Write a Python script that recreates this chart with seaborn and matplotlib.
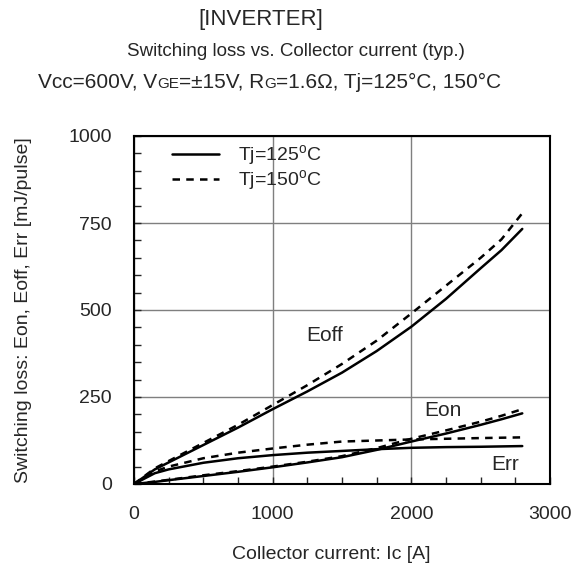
import numpy as np
import pandas as pd
import seaborn as sns
import matplotlib.pyplot as plt
from matplotlib.lines import Line2D
from matplotlib.ticker import MultipleLocator

# Data (collector current in A, losses in mJ/pulse)
ic = [0, 150, 250, 500, 750, 1000, 1250, 1500, 1750, 2000, 2250, 2500, 2650, 2800]

eoff_125 = [0, 42, 62, 112, 162, 215, 266, 320, 382, 452, 532, 620, 672, 733]
eoff_150 = [0, 45, 66, 118, 170, 227, 284, 345, 412, 490, 570, 650, 703, 778]
eon_125 = [0, 6, 11, 23, 35, 48, 62, 77, 98, 122, 145, 170, 186, 203]
eon_150 = [0, 7, 12, 25, 37, 50, 64, 80, 103, 130, 154, 179, 196, 215]
err_125 = [0, 31, 42, 61, 74, 83, 90, 95, 100, 104, 106, 107, 108, 109]
err_150 = [0, 36, 50, 74, 90, 102, 113, 122, 125, 128, 130, 132, 133, 134]

temps = ["Tj=125$^\\mathregular{o}$C", "Tj=150$^\\mathregular{o}$C"]

sns.set_style("ticks")
plt.rcParams["font.family"] = ["Liberation Sans", "DejaVu Sans"]
plt.rcParams["mathtext.fontset"] = "custom"
plt.rcParams["mathtext.rm"] = "Liberation Sans"
FS = 14

fig = plt.figure(figsize=(5.83, 5.78), dpi=100)
ax = fig.add_axes([134 / 583, 1 - 484 / 578, 416 / 583, 348 / 578])

dash = (0, (3, 2.5))
curves = [
    (eoff_125, "-"), (eoff_150, dash),
    (eon_125, "-"), (eon_150, dash),
    (err_125, "-"), (err_150, dash),
]
for vals, ls in curves:
    df = pd.DataFrame({"ic": ic, "e": vals})
    sns.lineplot(data=df, x="ic", y="e", ax=ax, color="black",
                 linewidth=1.8, linestyle=ls, zorder=3)

ax.set_xlim(0, 3000)
ax.set_ylim(0, 1000)
ax.xaxis.set_major_locator(MultipleLocator(1000))
ax.xaxis.set_minor_locator(MultipleLocator(250))
ax.yaxis.set_major_locator(MultipleLocator(250))
ax.yaxis.set_minor_locator(MultipleLocator(50))
ax.tick_params(which="both", direction="in", length=5, width=1, labelsize=FS,
               top=False, right=False)
ax.tick_params(axis="y", pad=16)
ax.tick_params(axis="x", pad=16)
ax.grid(which="major", color="#7f7f7f", linewidth=1)
for s in ax.spines.values():
    s.set_linewidth(1.5)
    s.set_color("black")

ax.set_xlabel("Collector current: Ic [A]", fontsize=FS)
ax.xaxis.set_label_coords((331 - 134) / 416, -(546 - 484) / 348)
ax.set_ylabel("Switching loss: Eon, Eoff, Err [mJ/pulse]", fontsize=FS)
ax.yaxis.set_label_coords(-(134 - 32) / 416, 0.5)

ax.text(1375, 427, "Eoff", fontsize=FS + 1, ha="center", va="center")
ax.text(2225, 211, "Eon", fontsize=FS + 1, ha="center", va="center")
ax.text(2675, 55, "Err", fontsize=FS + 1, ha="center", va="center")

handles = [Line2D([], [], color="black", lw=1.8, ls="-"),
           Line2D([], [], color="black", lw=1.8, ls=dash)]
ax.legend(handles, temps, loc="upper left", bbox_to_anchor=(0.05, 1.029),
          frameon=False, fontsize=FS, handlelength=2.4, handletextpad=1.0,
          labelspacing=0.0)

# title lines
fig.text(261 / 583, 1 - 19 / 578, "[INVERTER]", fontsize=16, ha="center", va="center")
fig.text(296 / 583, 1 - 52 / 578, "Switching loss vs. Collector current (typ.)",
         fontsize=13.5, ha="center", va="center")

# third line with small-letter suffixes on the baseline
pieces = [("Vcc=600V, V", 15), ("GE", 11), ("=\u00b115V, R", 15),
          ("G", 11), ("=1.6\u03a9, Tj=125\u00b0C, 150\u00b0C", 15)]
renderer = fig.canvas.get_renderer()
objs = []
for txt, size in pieces:
    objs.append(fig.text(0, 1 - 88 / 578, txt, fontsize=size, va="baseline"))
widths = [o.get_window_extent(renderer).width for o in objs]
x = 270 - sum(widths) / 2
for o, w in zip(objs, widths):
    o.set_x(x / 583)
    x += w

fig.savefig("out.png", dpi=100)
